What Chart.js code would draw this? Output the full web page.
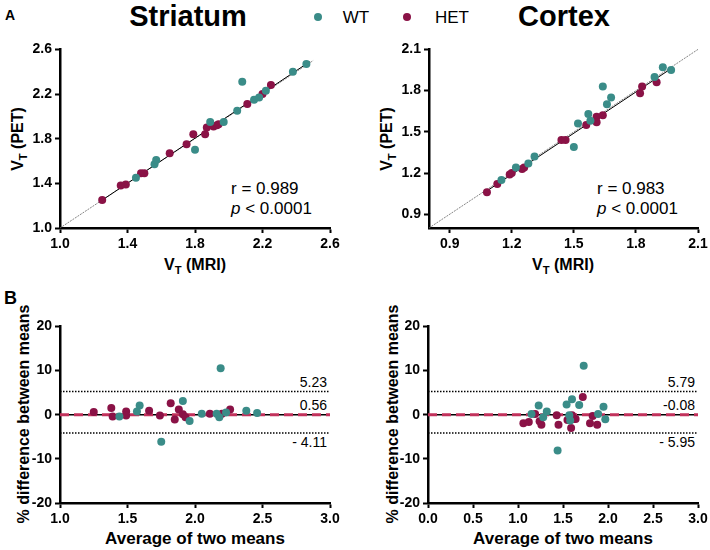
<!DOCTYPE html>
<html>
<head>
<meta charset="utf-8">
<script src="https://cdn.jsdelivr.net/npm/chart.js@4.4.0/dist/chart.umd.min.js"></script>
<style>
    body { margin: 0; background: #fff; width: 710px; height: 550px; position: relative; overflow: hidden;
           font-family: "Liberation Sans", Arial, sans-serif; color: #000; }
    canvas { position: absolute; }
    .t { position: absolute; white-space: nowrap; line-height: 1; }
    .c { transform: translate(-50%, -50%); }
    .rot { transform: translate(-50%, -50%) rotate(-90deg); }
    .b { font-weight: bold; }
    sub { font-size: 0.7em; vertical-align: -0.35em; }
</style>
</head>
<body>
<!-- panel letters, titles and legend -->
<div class="t b" style="left:5px;top:8px;font-size:14px;">A</div>
<div class="t b" style="left:4px;top:289px;font-size:18px;">B</div>
<div class="t b c" style="left:188px;top:16px;font-size:29px;">Striatum</div>
<div class="t b c" style="left:564px;top:16px;font-size:29px;">Cortex</div>
<div class="t" style="left:314px;top:13px;width:8px;height:8px;border-radius:50%;background:#3a8c88;"></div>
<div class="t c" style="left:356px;top:17px;font-size:17px;">WT</div>
<div class="t" style="left:403px;top:13px;width:8px;height:8px;border-radius:50%;background:#8a1246;"></div>
<div class="t c" style="left:452px;top:17px;font-size:17px;">HET</div>

<!-- axis titles -->
<div class="t b rot" style="left:20px;top:139px;font-size:16px;">V<sub>T</sub> (PET)</div>
<div class="t b c" style="left:195px;top:267px;font-size:16px;">V<sub>T</sub> (MRI)</div>
<div class="t b rot" style="left:389px;top:139px;font-size:16px;">V<sub>T</sub> (PET)</div>
<div class="t b c" style="left:563px;top:267px;font-size:16px;">V<sub>T</sub> (MRI)</div>
<div class="t b rot" style="left:24px;top:414px;font-size:16px;">% difference between means</div>
<div class="t b c" style="left:195px;top:538px;font-size:17px;">Average of two means</div>
<div class="t b rot" style="left:393px;top:414px;font-size:16px;">% difference between means</div>
<div class="t b c" style="left:563px;top:538px;font-size:17px;">Average of two means</div>

<!-- correlation stats -->
<div class="t" style="left:231px;top:180px;font-size:17px;">r = 0.989</div>
<div class="t" style="left:231px;top:200px;font-size:17px;"><i>p</i> &lt; 0.0001</div>
<div class="t" style="left:597px;top:180px;font-size:17px;">r = 0.983</div>
<div class="t" style="left:597px;top:200px;font-size:17px;"><i>p</i> &lt; 0.0001</div>

<!-- Bland-Altman labels -->
<div class="t" style="right:383px;top:375px;font-size:14px;">5.23</div>
<div class="t" style="right:383px;top:398px;font-size:14px;">0.56</div>
<div class="t" style="right:383px;top:435px;font-size:14px;">- 4.11</div>
<div class="t" style="right:15px;top:375px;font-size:14px;">5.79</div>
<div class="t" style="right:15px;top:398px;font-size:14px;">-0.08</div>
<div class="t" style="right:15px;top:435px;font-size:14px;">- 5.95</div>

<canvas id="st-corr"></canvas>
<canvas id="cx-corr"></canvas>
<canvas id="st-ba"></canvas>
<canvas id="cx-ba"></canvas>

<script>
// ============================================
// Data
// ============================================

// Striatum, V_T from MRI vs PET input
const stWtMri  = [1.45, 1.56, 1.57, 1.80, 1.89, 1.97, 2.05, 2.08, 2.15, 2.18, 2.22, 2.38, 2.46];
const stWtPet  = [1.45, 1.57, 1.61, 1.70, 1.95, 1.95, 2.05, 2.31, 2.15, 2.17, 2.23, 2.40, 2.47];
const stHetMri = [1.25, 1.36, 1.39, 1.48, 1.50, 1.65, 1.75, 1.79, 1.86, 1.87, 1.91, 1.93, 1.94, 2.11, 2.20, 2.25];
const stHetPet = [1.25, 1.38, 1.39, 1.49, 1.49, 1.67, 1.75, 1.84, 1.84, 1.90, 1.91, 1.92, 1.93, 2.11, 2.20, 2.28];
const stFitX = [1.24, 2.48];
const stFitY = [1.24, 2.49];
const stIdentity = [1.0, 2.5];

// Cortex, V_T from MRI vs PET input
const cxWtMri  = [1.15, 1.22, 1.28, 1.31, 1.50, 1.52, 1.57, 1.58, 1.64, 1.66, 1.68, 1.89, 1.93, 1.97];
const cxWtPet  = [1.15, 1.24, 1.27, 1.32, 1.39, 1.56, 1.63, 1.58, 1.83, 1.70, 1.75, 1.90, 1.97, 1.95];
const cxHetMri = [1.08, 1.13, 1.19, 1.20, 1.25, 1.26, 1.44, 1.46, 1.56, 1.61, 1.61, 1.64, 1.82, 1.83, 1.90];
const cxHetPet = [1.06, 1.12, 1.19, 1.20, 1.23, 1.24, 1.44, 1.44, 1.55, 1.61, 1.57, 1.62, 1.78, 1.83, 1.86];
const cxFitX = [1.07, 1.98];
const cxFitY = [1.06, 1.97];
const cxIdentity = [0.8, 2.1];

// Bland-Altman, striatum
const baStWtAvg   = [1.44, 1.57, 1.59, 1.75, 1.91, 1.96, 2.05, 2.16, 2.18, 2.19, 2.23, 2.38, 2.46];
const baStWtDiff  = [-0.4, 0.7, 2.1, -6.1, 3.1, -1.4, 0.2, 0.2, -0.6, 10.5, 0.5, 0.9, 0.4];
const baStHetAvg  = [1.25, 1.38, 1.39, 1.49, 1.49, 1.66, 1.74, 1.82, 1.85, 1.88, 1.91, 1.93, 2.11, 2.20, 2.26];
const baStHetDiff = [0.6, 1.5, -0.4, 0.7, -0.2, 0.9, -0.2, 2.6, -1.1, 1.2, 0.1, -0.6, 0.2, 0.2, 1.2];
const baStLimits = [5.23, -4.15];
const baStSpan = [1.0, 3.0];

// Bland-Altman, cortex
const baCxWtAvg   = [1.15, 1.23, 1.28, 1.32, 1.44, 1.54, 1.57, 1.58, 1.60, 1.68, 1.73, 1.89, 1.95, 1.97];
const baCxWtDiff  = [0.15, 2.1, -0.6, 0.7, -8.1, 2.3, -0.15, -1.3, 3.5, 2.2, 11.1, 0.15, 1.8, -1.05];
const baCxHetAvg  = [1.06, 1.12, 1.19, 1.24, 1.26, 1.43, 1.45, 1.55, 1.59, 1.60, 1.62, 1.64, 1.72, 1.80, 1.83, 1.88];
const baCxHetDiff = [-1.95, -1.65, 0.15, -1.5, -2.25, -0.15, -2.25, -1.2, -3.0, -0.15, -1.0, -1.0, 4.0, -1.95, -0.3, -2.25];
const baCxLimits = [5.23, -4.15];
const baCxSpan = [0.0, 3.0];

// Tick labels
const stCorrTicks = [1.0, 1.4, 1.8, 2.2, 2.6];
const cxCorrTicks = [0.9, 1.2, 1.5, 1.8, 2.1];
const baYTicks = [-20, -10, 0, 10, 20];
const baStXTicks = [1.0, 1.5, 2.0, 2.5, 3.0];
const baCxXTicks = [0.0, 0.5, 1.0, 1.5, 2.0, 2.5, 3.0];

// ============================================
// Styling helpers
// ============================================

const WT_COLOR = '#3a8c88';
const HET_COLOR = '#8a1246';
const FONT = '"Liberation Sans", Arial, sans-serif';

// Build {x, y} points from two arrays
const toPoints = (xs, ys) => xs.map((x, i) => ({ x: x, y: ys[i] }));

// A filled-dot series
function dotSet(xs, ys, color) {
    return {
        data: toPoints(xs, ys),
        backgroundColor: color,
        borderColor: color,
        borderWidth: 0,
        pointRadius: 4,
        showLine: false
    };
}

// A straight line series (no markers)
function lineSet(xs, ys, color, width, dash) {
    return {
        data: toPoints(xs, ys),
        showLine: true,
        pointRadius: 0,
        borderColor: color,
        borderWidth: width,
        borderDash: dash || [],
        fill: false
    };
}

// One linear axis with fixed ticks and fixed thickness
function axis(range, ticks, fitKey, fitSize, decimals) {
    return {
        type: 'linear',
        min: range[0],
        max: range[1],
        afterBuildTicks: scale => { scale.ticks = ticks.map(v => ({ value: v })); },
        afterFit: scale => { scale[fitKey] = fitSize; },
        grid: { drawOnChartArea: false, drawTicks: true, tickLength: 5, tickWidth: 2, tickColor: '#000' },
        border: { display: true, color: '#000', width: 2.5 },
        ticks: {
            color: '#000',
            padding: 3,
            font: { family: FONT, size: 14, weight: 'bold' },
            callback: value => Number(value).toFixed(decimals)
        }
    };
}

// Place a canvas so its plot area lands on the given rectangle, then draw
function makeChart(id, area, xAxis, yAxis, datasets) {
    const YW = 55, XH = 30, PT = 10, PR = 14;
    const canvas = document.getElementById(id);
    const w = area.w + YW + PR;
    const h = area.h + PT + XH;
    canvas.width = w;
    canvas.height = h;
    canvas.style.width = w + 'px';
    canvas.style.height = h + 'px';
    canvas.style.left = (area.left - YW) + 'px';
    canvas.style.top = (area.top - PT) + 'px';

    return new Chart(canvas, {
        type: 'scatter',
        data: { datasets: datasets },
        options: {
            responsive: false,
            animation: false,
            clip: false,
            layout: { padding: { top: PT, right: PR, left: 0, bottom: 0 } },
            plugins: { legend: { display: false }, tooltip: { enabled: false } },
            scales: {
                x: axis(xAxis.range, xAxis.ticks, 'height', XH, xAxis.decimals),
                y: axis(yAxis.range, yAxis.ticks, 'width', YW, yAxis.decimals)
            }
        }
    });
}

// ============================================
// Panel A: correlation plots
// ============================================

makeChart('st-corr', { left: 60, top: 48, w: 270, h: 180 },
    { range: [1.0, 2.6], ticks: stCorrTicks, decimals: 1 },
    { range: [1.0, 2.6], ticks: stCorrTicks, decimals: 1 },
    [
        dotSet(stWtMri, stWtPet, WT_COLOR),
        dotSet(stHetMri, stHetPet, HET_COLOR),
        lineSet(stFitX, stFitY, '#000', 1),
        lineSet(stIdentity, stIdentity, '#666', 0.8, [2, 1])
    ]);

makeChart('cx-corr', { left: 429, top: 48, w: 269, h: 180 },
    { range: [0.8, 2.1], ticks: cxCorrTicks, decimals: 1 },
    { range: [0.8, 2.1], ticks: cxCorrTicks, decimals: 1 },
    [
        dotSet(cxWtMri, cxWtPet, WT_COLOR),
        dotSet(cxHetMri, cxHetPet, HET_COLOR),
        lineSet(cxFitX, cxFitY, '#000', 1),
        lineSet(cxIdentity, cxIdentity, '#666', 0.8, [2, 1])
    ]);

// ============================================
// Panel B: Bland-Altman plots
// ============================================

function baSets(wtX, wtY, hetX, hetY, span, limits) {
    return [
        dotSet(wtX, wtY, WT_COLOR),
        dotSet(hetX, hetY, HET_COLOR),
        lineSet(span, [0, 0], '#c2325c', 3, [9, 5]),
        lineSet(span, [0, 0], '#000', 1.5),
        lineSet(span, [limits[0], limits[0]], '#000', 1.5, [1.5, 1.5]),
        lineSet(span, [limits[1], limits[1]], '#000', 1.5, [1.5, 1.5])
    ];
}

makeChart('st-ba', { left: 60, top: 325, w: 270, h: 178 },
    { range: baStSpan, ticks: baStXTicks, decimals: 1 },
    { range: [-20, 20], ticks: baYTicks, decimals: 0 },
    baSets(baStWtAvg, baStWtDiff, baStHetAvg, baStHetDiff, baStSpan, baStLimits));

makeChart('cx-ba', { left: 428, top: 325, w: 270, h: 178 },
    { range: baCxSpan, ticks: baCxXTicks, decimals: 1 },
    { range: [-20, 20], ticks: baYTicks, decimals: 0 },
    baSets(baCxWtAvg, baCxWtDiff, baCxHetAvg, baCxHetDiff, baCxSpan, baCxLimits));
</script>
</body>
</html>
